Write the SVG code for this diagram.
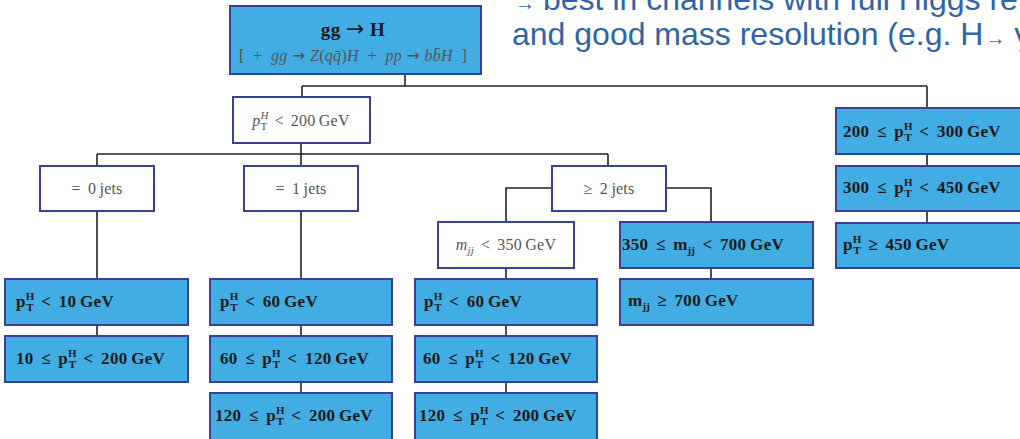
<svg xmlns="http://www.w3.org/2000/svg" width="1020" height="439" viewBox="0 0 1020 439">
<style>
.blue{fill:#41ade3;stroke:#3a3f9b;stroke-width:2}
.white{fill:#ffffff;stroke:#3a3f9b;stroke-width:2}
.bt{font-family:"Liberation Serif",serif;font-weight:bold;font-size:17px;fill:#1a1a1a;word-spacing:3px;letter-spacing:0.3px}
.wt{font-family:"Liberation Serif",serif;font-size:16px;fill:#555555;text-anchor:middle;word-spacing:3px;letter-spacing:0.2px}
.s{font-size:11px;letter-spacing:0}
.ar{font-family:"DejaVu Sans",sans-serif;font-weight:normal;font-style:normal}
.conn{fill:none;stroke:#222222;stroke-width:1.6}
.note{font-family:"Liberation Sans",Arial,sans-serif;font-size:32px;fill:#2f64a5}
</style>
<g id="connectors">
<path class="conn" d="M405 74V86M302 86H927M302 86V97M927 86V108"/>
<path class="conn" d="M301 143V154M97 154H608M97 154V166M301 154V166M608 154V166"/>
<path class="conn" d="M552 188H506V222M666 188H711V222"/>
<path class="conn" d="M97 211V279M97 325V336"/>
<path class="conn" d="M301 211V279M301 325V336M301 382V393"/>
<path class="conn" d="M506 268V279M506 325V336M506 382V393"/>
<path class="conn" d="M711 268V279"/>
<path class="conn" d="M927 154V166M927 211V223"/>
</g>
<g id="note">
<text class="note" x="515" y="10"><tspan font-size="20">→</tspan><tspan x="543">best in channels with full Higgs re</tspan></text>
<text class="note" x="512" y="45">and good mass resolution (e.g. H<tspan font-size="20" dx="2">→</tspan> γ</text>
</g>
<g id="n-ggH">
<rect class="blue" x="230" y="6" width="251" height="68"/>
<text x="353" y="36" text-anchor="middle" font-family="Liberation Serif,serif" font-weight="bold" font-size="19" fill="#1a1a1a" letter-spacing="0.5">gg <tspan class="ar" font-size="22">→</tspan> H</text>
<text x="353" y="61" text-anchor="middle" font-family="Liberation Serif,serif" font-style="italic" font-size="16" fill="#555555" xml:space="preserve" letter-spacing="0.3"><tspan font-style="normal">[  +  </tspan>gg <tspan class="ar" font-size="16">→</tspan> Z<tspan font-style="normal">(</tspan>qq̄<tspan font-style="normal">)</tspan>H  <tspan font-style="normal">+  </tspan>pp <tspan class="ar" font-size="16">→</tspan> bb̄H  <tspan font-style="normal">]</tspan></text>
</g>
<g id="n-pt200">
<rect class="white" x="233" y="97" width="137" height="46"/>
<text class="wt" x="301" y="126"><tspan font-style="italic">p</tspan><tspan class="s" font-style="italic" dy="-7">H</tspan><tspan class="s" dx="-8" dy="11">T</tspan><tspan dy="-4"> &lt; 200&#8201;GeV</tspan></text>
</g>
<g id="n-0jets">
<rect class="white" x="40" y="166" width="114" height="45"/>
<text class="wt" x="97" y="194">= 0&#8201;jets</text>
</g>
<g id="n-1jets">
<rect class="white" x="244" y="166" width="114" height="45"/>
<text class="wt" x="301" y="194">= 1&#8201;jets</text>
</g>
<g id="n-2jets">
<rect class="white" x="552" y="166" width="114" height="45"/>
<text class="wt" x="609" y="194">≥ 2&#8201;jets</text>
</g>
<g id="n-mjj350">
<rect class="white" x="438" y="222" width="136" height="46"/>
<text class="wt" x="506" y="250"><tspan font-style="italic">m</tspan><tspan class="s" font-style="italic" dy="4">jj</tspan><tspan dy="-4"> &lt; 350&#8201;GeV</tspan></text>
</g>
<g id="n-mjj350-700">
<rect class="blue" x="620" y="222" width="193" height="46"/>
<text class="bt" x="622" y="250">350 ≤ m<tspan class="s" dy="4">jj</tspan><tspan dy="-4"> &lt; 700&#8201;GeV</tspan></text>
</g>
<g id="n-mjj700">
<rect class="blue" x="620" y="279" width="193" height="46"/>
<text class="bt" x="628" y="306">m<tspan class="s" dy="4">jj</tspan><tspan dy="-4"> ≥ 700&#8201;GeV</tspan></text>
</g>
<g id="n-0j-a">
<rect class="blue" x="5" y="279" width="183" height="46"/>
<text class="bt" x="16" y="307">p<tspan class="s" dy="-7">H</tspan><tspan class="s" dx="-8" dy="11">T</tspan><tspan dy="-4"> &lt; 10&#8201;GeV</tspan></text>
</g>
<g id="n-0j-b">
<rect class="blue" x="5" y="336" width="183" height="46"/>
<text class="bt" x="16" y="364">10 ≤ p<tspan class="s" dy="-7">H</tspan><tspan class="s" dx="-8" dy="11">T</tspan><tspan dy="-4"> &lt; 200&#8201;GeV</tspan></text>
</g>
<g id="n-1j-a">
<rect class="blue" x="210" y="279" width="182" height="46"/>
<text class="bt" x="220" y="307">p<tspan class="s" dy="-7">H</tspan><tspan class="s" dx="-8" dy="11">T</tspan><tspan dy="-4"> &lt; 60&#8201;GeV</tspan></text>
</g>
<g id="n-1j-b">
<rect class="blue" x="210" y="336" width="182" height="46"/>
<text class="bt" x="220" y="364">60 ≤ p<tspan class="s" dy="-7">H</tspan><tspan class="s" dx="-8" dy="11">T</tspan><tspan dy="-4"> &lt; 120&#8201;GeV</tspan></text>
</g>
<g id="n-1j-c">
<rect class="blue" x="210" y="393" width="182" height="48"/>
<text class="bt" x="215" y="421">120 ≤ p<tspan class="s" dy="-7">H</tspan><tspan class="s" dx="-8" dy="11">T</tspan><tspan dy="-4"> &lt; 200&#8201;GeV</tspan></text>
</g>
<g id="n-2j-a">
<rect class="blue" x="415" y="279" width="182" height="46"/>
<text class="bt" x="424" y="307">p<tspan class="s" dy="-7">H</tspan><tspan class="s" dx="-8" dy="11">T</tspan><tspan dy="-4"> &lt; 60&#8201;GeV</tspan></text>
</g>
<g id="n-2j-b">
<rect class="blue" x="415" y="336" width="182" height="46"/>
<text class="bt" x="423" y="364">60 ≤ p<tspan class="s" dy="-7">H</tspan><tspan class="s" dx="-8" dy="11">T</tspan><tspan dy="-4"> &lt; 120&#8201;GeV</tspan></text>
</g>
<g id="n-2j-c">
<rect class="blue" x="415" y="393" width="182" height="48"/>
<text class="bt" x="419" y="421">120 ≤ p<tspan class="s" dy="-7">H</tspan><tspan class="s" dx="-8" dy="11">T</tspan><tspan dy="-4"> &lt; 200&#8201;GeV</tspan></text>
</g>
<g id="n-pt200-300">
<rect class="blue" x="836" y="108" width="190" height="46"/>
<text class="bt" x="843" y="137">200 ≤ p<tspan class="s" dy="-7">H</tspan><tspan class="s" dx="-8" dy="11">T</tspan><tspan dy="-4"> &lt; 300&#8201;GeV</tspan></text>
</g>
<g id="n-pt300-450">
<rect class="blue" x="836" y="166" width="190" height="45"/>
<text class="bt" x="843" y="193">300 ≤ p<tspan class="s" dy="-7">H</tspan><tspan class="s" dx="-8" dy="11">T</tspan><tspan dy="-4"> &lt; 450&#8201;GeV</tspan></text>
</g>
<g id="n-pt450">
<rect class="blue" x="836" y="223" width="190" height="45"/>
<text class="bt" x="843" y="250">p<tspan class="s" dy="-7">H</tspan><tspan class="s" dx="-8" dy="11">T</tspan><tspan dy="-4"> ≥ 450&#8201;GeV</tspan></text>
</g>
</svg>
